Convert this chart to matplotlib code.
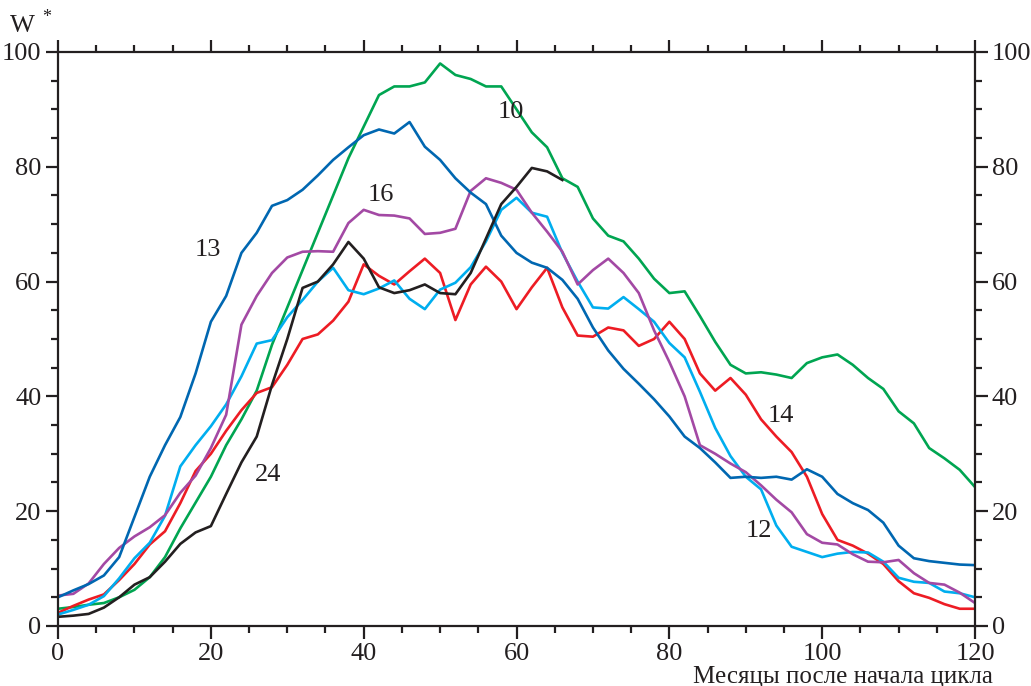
import numpy as np
import matplotlib
matplotlib.use("Agg")
import matplotlib.pyplot as plt
from matplotlib.ticker import MultipleLocator

plt.rcParams["font.family"] = ["Liberation Serif", "DejaVu Serif"]

# months since cycle start (every 2 months)
months = np.arange(0, 121, 2)

w_10 = [3.0, 3.3, 3.7, 4.0, 5.0, 6.3, 8.5, 12, 17, 21.5, 26, 31.5, 36, 41, 49,
        55.5, 62, 68.5, 75, 81.5, 87, 92.5, 94, 94, 94.7, 98, 96, 95.3, 94, 94,
        90, 86, 83.4, 78, 76.5, 71, 68, 67, 64, 60.5, 58, 58.3, 54, 49.5, 45.5,
        44, 44.2, 43.8, 43.2, 45.8, 46.8, 47.3, 45.5, 43.2, 41.3, 37.4, 35.3,
        31, 29.2, 27.2, 24.2]

w_13 = [5.0, 6.2, 7.3, 8.8, 12, 19, 26, 31.5, 36.4, 44, 53, 57.5, 65, 68.5,
        73.2, 74.2, 76, 78.5, 81.2, 83.4, 85.5, 86.5, 85.8, 87.8, 83.5, 81.2,
        78, 75.5, 73.5, 68, 65, 63.3, 62.4, 60.3, 57, 52, 48, 44.8, 42.2, 39.5,
        36.5, 33, 31, 28.5, 25.8, 26, 25.8, 26, 25.5, 27.3, 26, 23, 21.4, 20.2,
        18, 14, 11.8, 11.3, 11, 10.7, 10.6]

w_16 = [5.3, 5.6, 7.4, 10.8, 13.6, 15.6, 17.2, 19.3, 23.2, 26.2, 31, 36.8,
        52.5, 57.5, 61.5, 64.2, 65.2, 65.3, 65.2, 70.2, 72.5, 71.6, 71.5, 71,
        68.3, 68.5, 69.2, 75.8, 78, 77.2, 76, 72, 68.7, 65.2, 59.5, 62, 64,
        61.5, 58, 51.5, 46, 40, 31.5, 30, 28.3, 26.8, 24.5, 22, 19.8, 16, 14.5,
        14.2, 12.5, 11.2, 11.1, 11.5, 9.2, 7.5, 7.2, 5.8, 4.0]

w_12 = [2.0, 2.8, 3.7, 5.2, 8.3, 11.8, 14.5, 19.2, 27.8, 31.5, 34.8, 38.6,
        43.5, 49.2, 49.8, 53.8, 56.8, 60, 62.4, 58.5, 57.8, 58.8, 60.2, 57,
        55.2, 58.6, 59.8, 62.5, 67, 72.5, 74.6, 72, 71.3, 65, 60, 55.5, 55.3,
        57.3, 55.2, 53, 49.3, 46.8, 40.8, 34.5, 29.6, 26, 23.8, 17.5, 13.8,
        12.9, 12, 12.6, 12.9, 12.8, 11.2, 8.4, 7.7, 7.5, 6, 5.7, 5.0]

w_14 = [2.3, 3.5, 4.6, 5.5, 8, 10.8, 14.2, 16.5, 21.4, 27, 30, 34, 37.6, 40.6,
        41.6, 45.5, 50, 50.8, 53.2, 56.5, 63, 61, 59.5, 61.8, 64, 61.5, 53.3,
        59.5, 62.6, 60, 55.2, 59, 62.4, 55.5, 50.6, 50.4, 52, 51.5, 48.8, 50,
        53, 50, 44, 41, 43.2, 40.3, 36, 33, 30.3, 26, 19.5, 15, 14, 12.6, 10.8,
        7.8, 5.7, 4.9, 3.8, 3, 3]

# cycle 24 is still incomplete
w_24 = [1.6, 1.8, 2.1, 3.2, 5.0, 7.2, 8.5, 11.2, 14.3, 16.3, 17.4, 23, 28.5,
        33, 42, 50, 58.9, 60, 63, 66.9, 64, 59, 58, 58.5, 59.5, 58, 57.8, 61.5,
        67.5, 73.5, 76.5, 79.8, 79.2, 77.7]
months_24 = months[:len(w_24)]

INK = "#231f20"
FS = 19

fig = plt.figure(figsize=(10.31, 6.86), dpi=100)
ax = fig.add_axes([0.0563, 0.0875, 0.8894, 0.8367])

lw = 1.9
ax.plot(months, w_10, color="#00a551", lw=lw)
ax.plot(months, w_14, color="#ed1c24", lw=lw)
ax.plot(months, w_12, color="#00aeef", lw=lw)
ax.plot(months, w_16, color="#a349a4", lw=lw)
ax.plot(months, w_13, color="#0067b1", lw=lw)
ax.plot(months_24, w_24, color=INK, lw=lw)

ax.set_xlim(0, 120)
ax.set_ylim(0, 100)
ax.xaxis.set_major_locator(MultipleLocator(20))
ax.xaxis.set_minor_locator(MultipleLocator(5))
ax.yaxis.set_major_locator(MultipleLocator(20))
ax.yaxis.set_minor_locator(MultipleLocator(5))

for s in ax.spines.values():
    s.set_linewidth(1.6)
    s.set_color(INK)

ax.tick_params(which="both", direction="out", color=INK, width=1.6,
               top=True, right=True, labelright=True, labelsize=FS,
               labelcolor=INK)
ax.tick_params(which="major", length=9)
ax.tick_params(which="minor", length=5)
ax.tick_params(axis="x", pad=3)
ax.tick_params(axis="y", pad=3)

# curve labels (cycle numbers)
for txt, x, y in [("10", 59.3, 89.5), ("13", 19.6, 65.5), ("16", 42.3, 75),
                  ("24", 27.5, 26.3), ("14", 94.6, 36.6), ("12", 91.7, 16.6)]:
    ax.text(x, y, txt, fontsize=FS, color=INK, ha="center", va="center")

fig.text(0.010, 0.953, "W", fontsize=FS, color=INK, ha="left", va="baseline")
fig.text(0.041, 0.968, "*", fontsize=13, color=INK, ha="left", va="baseline")
fig.text(0.963, 0.005, "Месяцы после начала цикла", fontsize=18, color=INK,
         ha="right", va="baseline")

fig.savefig("out.png", dpi=100)
